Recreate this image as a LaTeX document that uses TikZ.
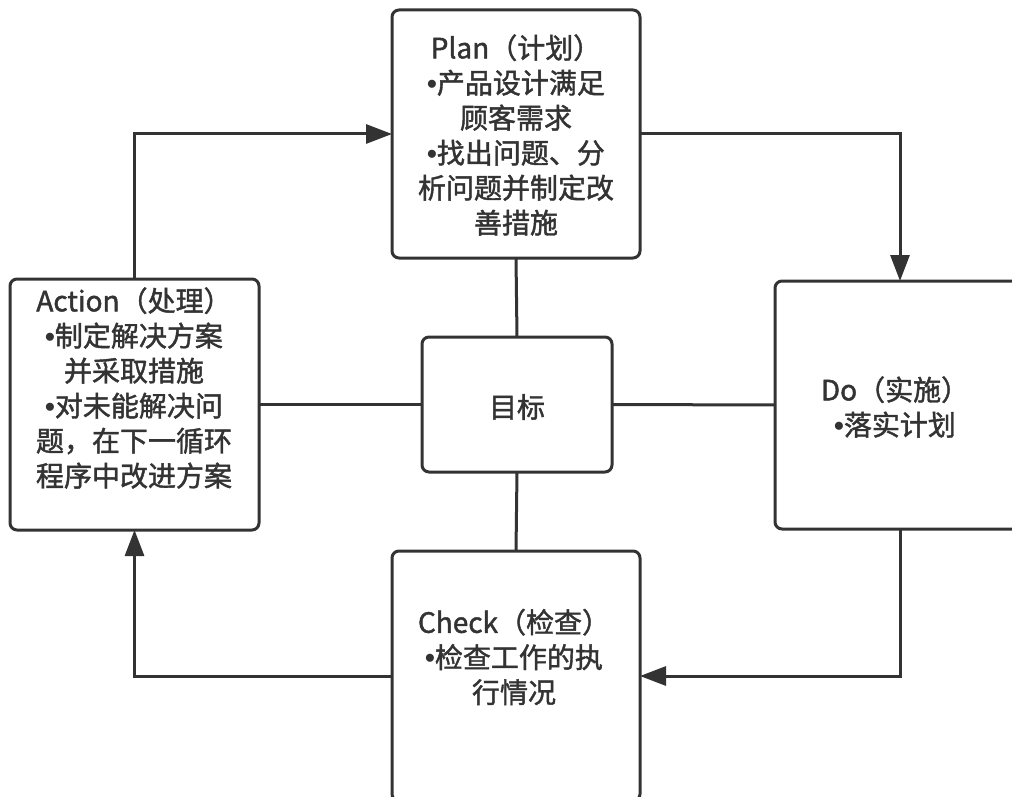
\documentclass[tikz,border=0pt]{standalone}
\usepackage{fontspec}
\setmainfont{Noto Sans CJK SC}[BoldFont=*, BoldFeatures={FakeBold=1.5}]
\newfontfamily\bulfont{Liberation Sans}
\newcommand{\bul}{{\bulfont\bfseries •}}
\usetikzlibrary{arrows.meta}
\definecolor{ink}{HTML}{333333}
\tikzset{
  box/.style={draw=ink, line width=3pt, rounded corners=7pt, fill=white,
    inner sep=0pt, outer sep=0pt},
  txt/.style={text=ink, align=center, font=\fontsize{28pt}{35pt}\selectfont\bfseries, inner sep=0pt},
  link/.style={draw=ink, line width=3pt},
  flow/.style={draw=ink, line width=3pt, -{Triangle[length=26pt,width=19pt]}},
}
\begin{document}
\begin{tikzpicture}[x=1pt,y=-1pt]
\useasboundingbox (0,0) rectangle (1012,797);
\fill[white] (0,0) rectangle (1012,797);
\clip (0,0) rectangle (1012,797);
% boxes
\node[box, minimum width=248pt, minimum height=248pt] (plan) at (516,134) {};
\node[box, minimum width=250pt, minimum height=248pt] (do) at (900,405) {};
\node[box, minimum width=248pt, minimum height=250pt] (check) at (516,676) {};
\node[box, minimum width=249pt, minimum height=251pt] (act) at (134.5,404.5) {};
\node[box, minimum width=190pt, minimum height=135pt] (goal) at (517,404.5) {};
% texts
\node[txt] (plant) at (516,135) {Plan（计划）\\\bul 产品设计满足\\顾客需求\\\bul 找出问题、分\\析问题并制定改\\善措施};
\node[txt] (dot) at (895,407) {Do（实施）\\\bul 落实计划};
\node[txt] (checkt) at (514,657) {Check（检查）\\\bul 检查工作的执\\行情况};
\node[txt] (actt) at (134,388) {Action（处理）\\\bul 制定解决方案\\并采取措施\\\bul 对未能解决问\\题，在下一循环\\程序中改进方案};
\node[txt] (goalt) at (517,407) {目标};
% links to the goal
\draw[link] (plan.south) -- (goal.north);
\draw[link] (goal.south) -- (check.north);
\draw[link] (goal.west) -- (act.east);
\draw[link] (goal.east) -- (do.west);
% cycle arrows
\draw[flow] (act.north) |- (plan.west);
\draw[flow] (plan.east) -| (do.north);
\draw[flow] (do.south) |- (check.east);
\draw[flow] (check.west) -| (act.south);
\end{tikzpicture}
\end{document}
